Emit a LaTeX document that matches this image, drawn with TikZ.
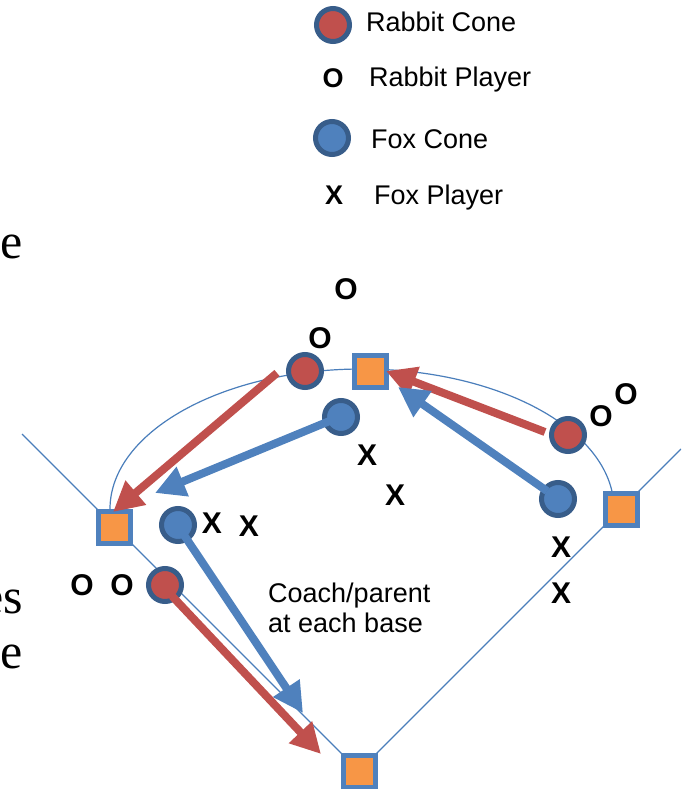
\documentclass[tikz,border=0pt]{standalone}
\usepackage{fontspec}
\setmainfont{Liberation Sans}
\newfontfamily\slideserif{Liberation Serif}
\usetikzlibrary{arrows.meta}

\definecolor{conered}{HTML}{C0504D}
\definecolor{coneblue}{HTML}{4F81BD}
\definecolor{coneedge}{HTML}{385D8A}
\definecolor{baseedge}{HTML}{4F81BD}
\definecolor{basefill}{HTML}{F79646}
\definecolor{fieldline}{HTML}{4A7EBB}

\tikzset{
  cone/.style={circle, draw=coneedge, line width=5pt, minimum size=33pt, inner sep=0pt},
  rabbitcone/.style={cone, fill=conered},
  foxcone/.style={cone, fill=coneblue},
  basebag/.style={rectangle, draw=baseedge, fill=basefill, line width=5pt, minimum size=32pt, inner sep=0pt},
  player/.style={font=\fontsize{30}{30}\selectfont\bfseries, inner sep=0pt},
  keyplayer/.style={font=\fontsize{27}{27}\selectfont\bfseries, inner sep=0pt},
  legendtext/.style={font=\fontsize{27}{30}\selectfont, anchor=base west, inner sep=0pt},
  notetext/.style={font=\fontsize{27}{30}\selectfont, anchor=base west, inner sep=0pt},
  edgetext/.style={font=\slideserif\fontsize{50}{50}\selectfont, anchor=base east, inner sep=0pt},
  field/.style={draw=fieldline, line width=1.2pt},
  runpath/.style={line width=8pt, -{Triangle[length=30pt,width=30pt]}},
  rabbitrun/.style={runpath, draw=conered, fill=conered},
  foxrun/.style={runpath, draw=coneblue, fill=coneblue},
}

\begin{document}
\begin{tikzpicture}[x=1pt,y=-1pt]
\useasboundingbox (0,0) rectangle (681,789);
\clip (0,0) rectangle (681,789);

% slide text running in from the left edge
\node[edgetext] (t1) at (23,258) {e};
\node[edgetext] (t2) at (23,613) {es};
\node[edgetext] (t3) at (23,668) {e};

% field corners
\coordinate (lf) at (22,434);
\coordinate (rf) at (681,449);
\coordinate (homec) at (359,771);

% foul lines and the arc linking the bases
\draw[field] (lf) -- (homec) -- (rf);
\draw[field] (110,509) arc[start angle=180, end angle=7, x radius=252pt, y radius=140pt];

% bases
\node[basebag] (home)   at (homec) {};
\node[basebag] (first)  at (621,509) {};
\node[basebag] (second) at (370,371) {};
\node[basebag] (third)  at (114,527) {};

% cones
\node[rabbitcone] (rtop)   at (305,371) {};
\node[rabbitcone] (rright) at (568,435) {};
\node[rabbitcone] (rleft)  at (165,585) {};
\node[foxcone] (ftop)   at (341,417) {};
\node[foxcone] (fright) at (558,499) {};
\node[foxcone] (fleft)  at (178,525) {};

% running paths
\coordinate (a1s) at (277,373);  \coordinate (a1e) at (113,512);
\coordinate (a2s) at (332,420);  \coordinate (a2e) at (155,493);
\coordinate (a3s) at (545,432);  \coordinate (a3e) at (386,371);
\coordinate (a4s) at (547,491);  \coordinate (a4e) at (398,387);
\coordinate (a5s) at (184,535);  \coordinate (a5e) at (303,713);
\coordinate (a6s) at (172,596);  \coordinate (a6e) at (321,754);

\draw[rabbitrun] (a1s) -- (a1e);
\draw[foxrun]    (a2s) -- (a2e);
\draw[rabbitrun] (a3s) -- (a3e);
\draw[foxrun]    (a4s) -- (a4e);
\draw[foxrun]    (a5s) -- (a5e);
\draw[rabbitrun] (a6s) -- (a6e);

% players
\node[player] (o1) at (346,289) {O};
\node[player] (o2) at (320,338) {O};
\node[player] (o3) at (601,416) {O};
\node[player] (o4) at (626,394) {O};
\node[player] (o5) at (82,585) {O};
\node[player] (o6) at (122,585) {O};
\node[player] (x1) at (367,455) {X};
\node[player] (x2) at (395,495) {X};
\node[player] (x3) at (212,523) {X};
\node[player] (x4) at (249,526) {X};
\node[player] (x5) at (561,547) {X};
\node[player] (x6) at (561,593) {X};

% note
\node[notetext] (note1) at (268,602) {Coach/parent};
\node[notetext] (note2) at (268,632) {at each base};

% legend
\node[rabbitcone] (lg1) at (333,25) {};
\node[keyplayer] (lg2) at (333,78) {O};
\node[foxcone] (lg3) at (332,138) {};
\node[keyplayer] (lg4) at (334,195) {X};
\node[legendtext] (lt1) at (366,32) {Rabbit Cone};
\node[legendtext] (lt2) at (369,87) {Rabbit Player};
\node[legendtext] (lt3) at (371,148) {Fox Cone};
\node[legendtext] (lt4) at (374,204) {Fox Player};
\end{tikzpicture}
\end{document}
